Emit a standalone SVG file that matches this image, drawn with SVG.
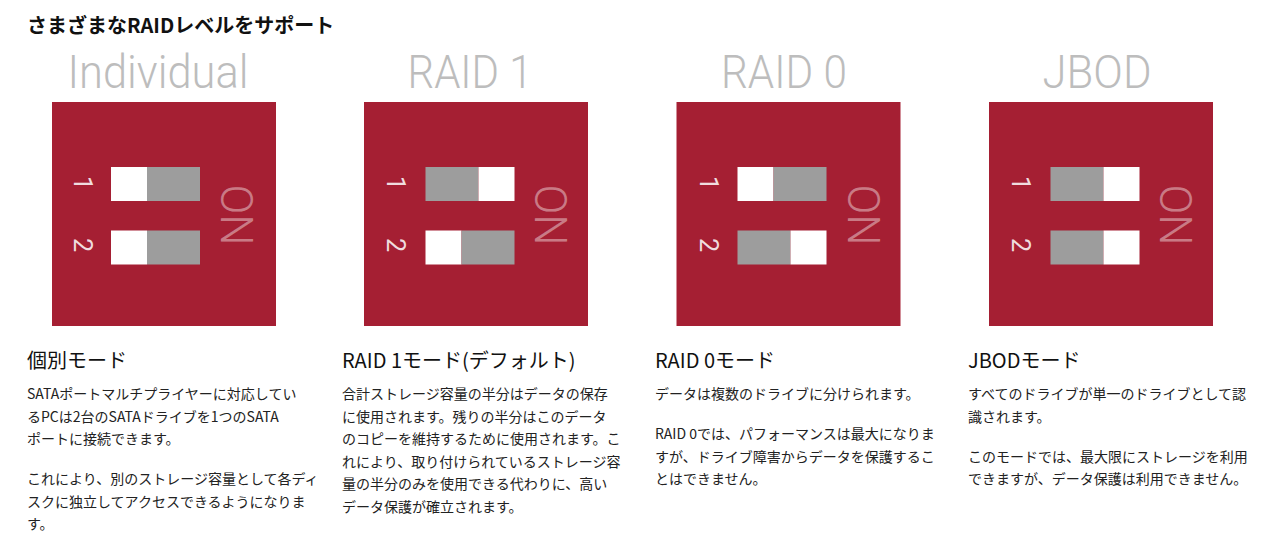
<svg xmlns="http://www.w3.org/2000/svg" width="1276" height="558" viewBox="0 0 1276 558">
<style>
.bg{fill:#ffffff}
.panel{fill:#a51f33}
.w{fill:#ffffff}
.g{fill:#9d9d9d}
.ttl{font-family:Roboto,"Liberation Sans",sans-serif;font-weight:300;font-size:46px;fill:#bdbdbd;text-anchor:middle}
.on{font-family:Roboto,"Liberation Sans",sans-serif;font-weight:300;font-size:44px;fill:#ffffff;fill-opacity:0.42;text-anchor:middle}
.dg{font-family:Roboto,"Liberation Sans",sans-serif;font-weight:400;font-size:25px;fill:#ffffff;fill-opacity:0.85;text-anchor:middle}
.h0{font-family:"Noto Sans CJK JP","Noto Sans",sans-serif;font-weight:700;font-size:20px;fill:#111111}
.h1{font-family:"Noto Sans CJK JP","Noto Sans",sans-serif;font-weight:400;font-size:20px;fill:#111111}
.tx{font-family:"Noto Sans CJK JP","Noto Sans",sans-serif;font-weight:400;font-size:14px;fill:#222222}
</style>
<rect class="bg" x="0" y="0" width="1276" height="558"/>
<text class="h0" x="27" y="33">さまざまなRAIDレベルをサポート</text>

<g id="individual">
  <text class="ttl" x="158" y="88" textLength="181" lengthAdjust="spacingAndGlyphs">Individual</text>
  <rect class="panel" x="52" y="102" width="224" height="224"/>
  <rect class="w" x="111" y="167" width="36" height="34"/>
  <rect class="g" x="147" y="167" width="53" height="34"/>
  <rect class="w" x="111" y="230.5" width="36" height="34"/>
  <rect class="g" x="147" y="230.5" width="53" height="34"/>
  <text class="dg" transform="translate(83,183) rotate(90)" x="0" y="9">1</text>
  <text class="dg" transform="translate(83,245) rotate(90)" x="0" y="9">2</text>
  <text class="on" transform="translate(237,215) rotate(90)" x="0" y="15.6">ON</text>
  <text class="h1" x="27" y="368">個別モード</text>
  <text class="tx" x="27" y="399">SATAポートマルチプライヤーに対応してい</text>
  <text class="tx" x="27" y="421.5">るPCは2台のSATAドライブを1つのSATA</text>
  <text class="tx" x="27" y="444">ポートに接続できます。</text>
  <text class="tx" x="27" y="484">これにより、別のストレージ容量として各ディ</text>
  <text class="tx" x="27" y="506.5">スクに独立してアクセスできるようになりま</text>
  <text class="tx" x="27" y="529">す。</text>
</g>

<g id="raid1">
  <text class="ttl" x="470" y="88" textLength="125" lengthAdjust="spacingAndGlyphs">RAID 1</text>
  <rect class="panel" x="364" y="102" width="224" height="224"/>
  <rect class="g" x="425.5" y="167" width="53" height="34"/>
  <rect class="w" x="478.5" y="167" width="36" height="34"/>
  <rect class="w" x="425.5" y="230.5" width="36" height="34"/>
  <rect class="g" x="461.5" y="230.5" width="53" height="34"/>
  <text class="dg" transform="translate(396,183) rotate(90)" x="0" y="9">1</text>
  <text class="dg" transform="translate(396,245) rotate(90)" x="0" y="9">2</text>
  <text class="on" transform="translate(551,215) rotate(90)" x="0" y="15.6">ON</text>
  <text class="h1" x="342" y="368">RAID 1モード(デフォルト)</text>
  <text class="tx" x="342" y="399">合計ストレージ容量の半分はデータの保存</text>
  <text class="tx" x="342" y="421.5">に使用されます。残りの半分はこのデータ</text>
  <text class="tx" x="342" y="444">のコピーを維持するために使用されます。こ</text>
  <text class="tx" x="342" y="466.5">れにより、取り付けられているストレージ容</text>
  <text class="tx" x="342" y="489">量の半分のみを使用できる代わりに、高い</text>
  <text class="tx" x="342" y="511.5">データ保護が確立されます。</text>
</g>

<g id="raid0">
  <text class="ttl" x="784" y="88" textLength="126" lengthAdjust="spacingAndGlyphs">RAID 0</text>
  <rect class="panel" x="676.5" y="102" width="224" height="224"/>
  <rect class="w" x="737.5" y="167" width="36" height="34"/>
  <rect class="g" x="773.5" y="167" width="53" height="34"/>
  <rect class="g" x="737.5" y="230.5" width="53" height="34"/>
  <rect class="w" x="790.5" y="230.5" width="36" height="34"/>
  <text class="dg" transform="translate(708.5,183) rotate(90)" x="0" y="9">1</text>
  <text class="dg" transform="translate(708.5,245) rotate(90)" x="0" y="9">2</text>
  <text class="on" transform="translate(863.5,215) rotate(90)" x="0" y="15.6">ON</text>
  <text class="h1" x="655" y="368">RAID 0モード</text>
  <text class="tx" x="655" y="399">データは複数のドライブに分けられます。</text>
  <text class="tx" x="655" y="439">RAID 0では、パフォーマンスは最大になりま</text>
  <text class="tx" x="655" y="461.5">すが、ドライブ障害からデータを保護するこ</text>
  <text class="tx" x="655" y="484">とはできません。</text>
</g>

<g id="jbod">
  <text class="ttl" x="1097" y="88" textLength="109" lengthAdjust="spacingAndGlyphs">JBOD</text>
  <rect class="panel" x="989" y="102" width="224" height="224"/>
  <rect class="g" x="1050.5" y="167" width="53" height="34"/>
  <rect class="w" x="1103.5" y="167" width="36" height="34"/>
  <rect class="g" x="1050.5" y="230.5" width="53" height="34"/>
  <rect class="w" x="1103.5" y="230.5" width="36" height="34"/>
  <text class="dg" transform="translate(1021,183) rotate(90)" x="0" y="9">1</text>
  <text class="dg" transform="translate(1021,245) rotate(90)" x="0" y="9">2</text>
  <text class="on" transform="translate(1176,215) rotate(90)" x="0" y="15.6">ON</text>
  <text class="h1" x="968" y="368">JBODモード</text>
  <text class="tx" x="968" y="399">すべてのドライブが単一のドライブとして認</text>
  <text class="tx" x="968" y="421.5">識されます。</text>
  <text class="tx" x="968" y="461.5">このモードでは、最大限にストレージを利用</text>
  <text class="tx" x="968" y="484">できますが、データ保護は利用できません。</text>
</g>
</svg>
